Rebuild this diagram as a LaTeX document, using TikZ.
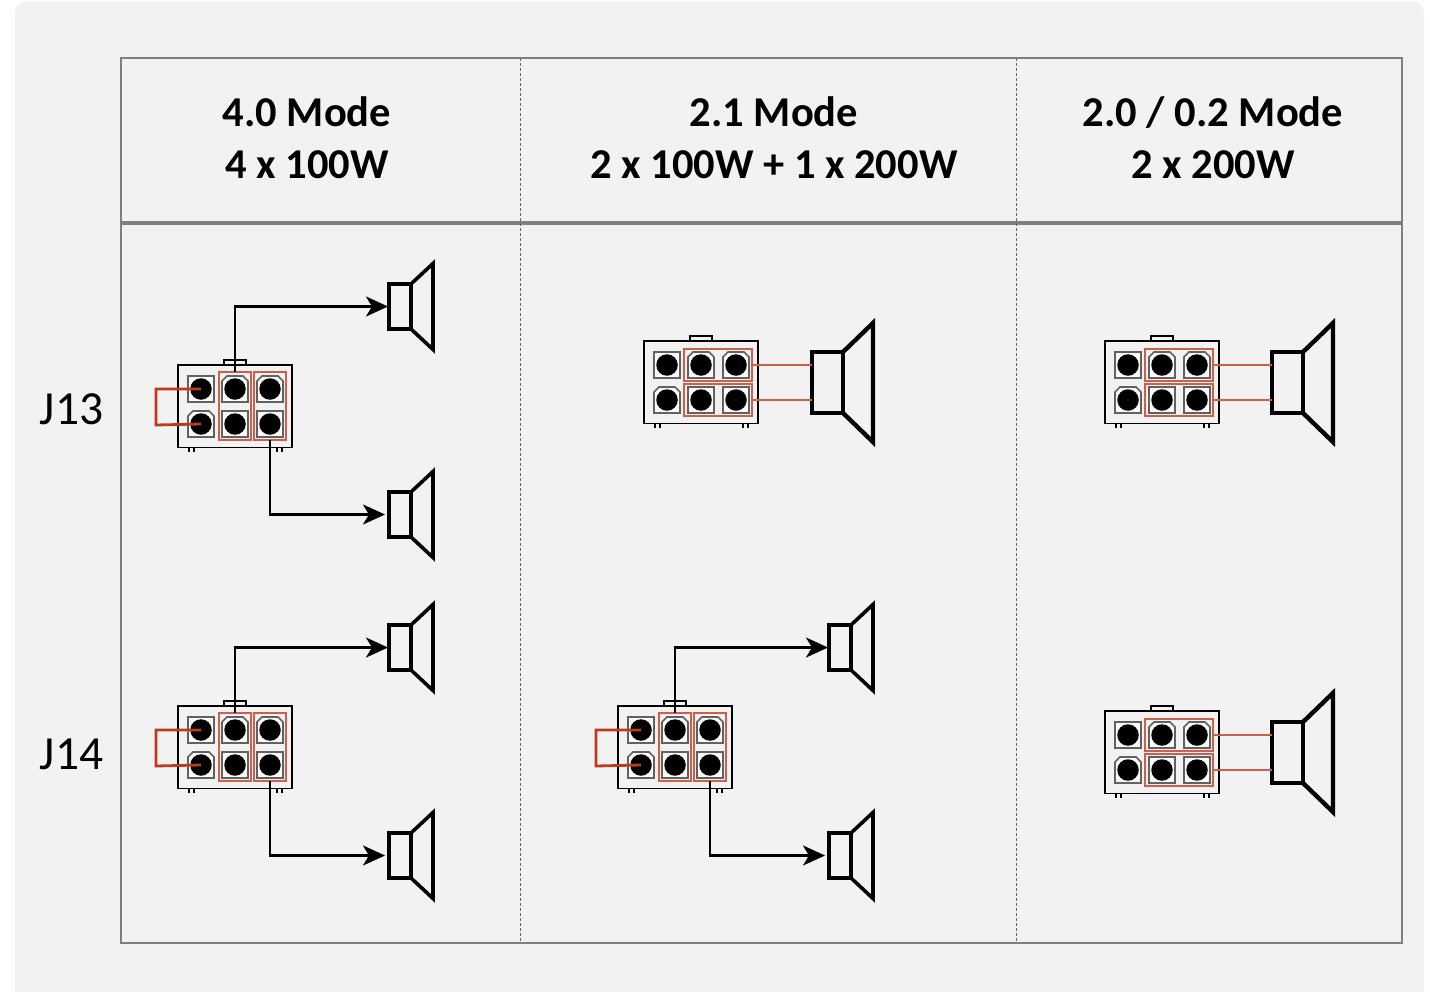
\documentclass[tikz,border=0pt]{standalone}
\usepackage{fontspec}
\setmainfont{Carlito}
\usetikzlibrary{arrows.meta}
\definecolor{panelbg}{HTML}{F2F2F2}
\definecolor{tablegrey}{HTML}{7F7F7F}
\definecolor{jumper}{HTML}{C0391B}
\definecolor{groupred}{HTML}{CF5F48}
\tikzset{
  x=1pt,y=-1pt,
  headtext/.style={font=\bfseries\fontsize{42.5}{52}\selectfont,align=center,text=black,inner sep=0pt},
  rowtext/.style={font=\fontsize{47.5}{50}\selectfont,text=black,inner sep=0pt},
  housing/.style={draw=black,line width=1.8pt,fill=panelbg},
  sockbox/.style={draw=black!62,line width=1.6pt,fill=white!70!panelbg},
  pin/.style={circle,fill=black,minimum size=21.5pt,inner sep=0pt,outer sep=0pt},
  groupbox/.style={draw=groupred,line width=1.5pt},
  grouplink/.style={draw=groupred,line width=1.5pt},
  jumperwire/.style={draw=jumper,line width=2.8pt,line join=miter},
  wire/.style={draw=black,line width=2.7pt,-{Stealth[length=22pt,width=20pt,inset=6pt]}},
  spkbox/.style={draw=black,inner sep=0pt,outer sep=0pt,rectangle},
}
% square and chamfered sockets, (#1,#2) = centre
\newcommand{\socksq}[2]{\draw[sockbox] (#1-13,#2-13) rectangle (#1+13,#2+13);}
\newcommand{\sockch}[2]{\draw[sockbox] (#1-13,#2+13) -- (#1-13,#2-8) -- (#1-8,#2-13) -- (#1+8,#2-13) -- (#1+13,#2-8) -- (#1+13,#2+13) -- cycle;}
% #1 name, #2 x, #3 y : housing with six sockets
\newcommand{\connblock}[3]{%
  \begin{scope}[shift={(#2,#3)}]
    \draw[housing] (46,0) -- (46,-5) -- (68,-5) -- (68,0);
    \draw[line width=1.4pt] (11,82) -- (11,87) (16,82) -- (16,87) (99,82) -- (99,87) (104,82) -- (104,87);
    \draw[housing] (0,0) rectangle (114,82.5);
    \socksq{23}{24}\sockch{57}{24}\sockch{92}{24}
    \sockch{23}{59}\socksq{57}{59}\socksq{92}{59}
    \node[pin] (#1-a) at (23,24) {};
    \node[pin] (#1-b) at (57,24) {};
    \node[pin] (#1-c) at (92,24) {};
    \node[pin] (#1-d) at (23,59) {};
    \node[pin] (#1-e) at (57,59) {};
    \node[pin] (#1-f) at (92,59) {};
  \end{scope}}
% vertical pair groups and the jumper
\newcommand{\vgroups}[3]{%
  \begin{scope}[shift={(#2,#3)}]
    \node[groupbox,minimum width=32pt,minimum height=68pt,inner sep=0pt,outer sep=0pt] (#1-gl) at (57,41) {};
    \node[groupbox,minimum width=32pt,minimum height=68pt,inner sep=0pt,outer sep=0pt] (#1-gr) at (92,41) {};
    \draw[jumperwire] (#1-a.center) -- (-22,24) -- (-22,60) -- (#1-d.center);
  \end{scope}}
% horizontal pair groups
\newcommand{\hgroups}[3]{%
  \begin{scope}[shift={(#2,#3)}]
    \node[groupbox,minimum width=68pt,minimum height=32pt,inner sep=0pt,outer sep=0pt] (#1-gt) at (74,24) {};
    \node[groupbox,minimum width=68pt,minimum height=32pt,inner sep=0pt,outer sep=0pt] (#1-gb) at (74,59) {};
  \end{scope}}
% small speaker: #1 name, #2 x, #3 y of box top-left
\newcommand{\smallspk}[3]{%
  \node[spkbox,line width=3.6pt,minimum width=22pt,minimum height=45pt] (#1) at (#2+11,#3+22.5) {};
  \draw[line width=3.6pt,line join=miter] (#1.north east) -- (#2+44,#3-20.5) -- (#2+44,#3+65.5) -- (#1.south east);}
% large speaker
\newcommand{\bigspk}[3]{%
  \node[spkbox,line width=4.4pt,minimum width=31pt,minimum height=61pt] (#1) at (#2+15.5,#3+30.5) {};
  \draw[line width=4.4pt,line join=miter] (#1.north east) -- (#2+61,#3-29) -- (#2+61,#3+90) -- (#1.south east);}
\begin{document}
\begin{tikzpicture}
\useasboundingbox (0,0) rectangle (1430,991);
\clip (0,0) rectangle (1430,991);
\fill[white] (0,0) rectangle (1430,991);
\fill[panelbg,rounded corners=12pt] (15,1) rectangle (1424,1010);
% table
\draw[tablegrey,line width=2pt] (121,58) rectangle (1402,943);
\draw[tablegrey,line width=3.2pt] (121,223) -- (1402,223);
\draw[tablegrey!80!black,line width=0.9pt,dash pattern=on 3pt off 2pt] (520.6,58) -- (520.6,943);
\draw[tablegrey!80!black,line width=0.9pt,dash pattern=on 3pt off 2pt] (1016.6,58) -- (1016.6,943);
% headers
\node[headtext] (h1) at (307,138) {4.0 Mode\\4 x 100W};
\node[headtext] (h2) at (774,138) {2.1 Mode\\2 x 100W + 1 x 200W};
\node[headtext] (h3) at (1213,138) {2.0 / 0.2 Mode\\2 x 200W};
\node[rowtext] (j13) at (71.5,409) {J13};
\node[rowtext] (j14) at (71.5,754) {J14};
% connector blocks
\connblock{A}{178}{365}\vgroups{A}{178}{365}
\connblock{B}{178}{706}\vgroups{B}{178}{706}
\connblock{C}{618}{706}\vgroups{C}{618}{706}
\connblock{D}{644}{341}\hgroups{D}{644}{341}
\connblock{E}{1105}{341}\hgroups{E}{1105}{341}
\connblock{F}{1105}{711}\hgroups{F}{1105}{711}
% speakers
\smallspk{sa1}{389}{284}
\smallspk{sa2}{389}{492}
\smallspk{sb1}{389}{625}
\smallspk{sb2}{389}{833}
\smallspk{sc1}{829}{625}
\smallspk{sc2}{829}{833}
\bigspk{sd}{812}{352}
\bigspk{se}{1272}{352}
\bigspk{sf}{1272}{722}
% wires
\draw[wire] (A-gl.north) |- ([xshift=-1pt]sa1.west);
\draw[wire] (A-gr.south) |- ([xshift=-4pt]sa2.west);
\draw[wire] (B-gl.north) |- ([xshift=-1pt]sb1.west);
\draw[wire] (B-gr.south) |- ([xshift=-4pt]sb2.west);
\draw[wire] (C-gl.north) |- ([xshift=-1pt]sc1.west);
\draw[wire] (C-gr.south) |- ([xshift=-4pt]sc2.west);
% group links
\foreach \g/\s in {D/sd,E/se,F/sf}{
  \draw[grouplink] (\g-gt.east) -- (\s.west |- \g-gt.east);
  \draw[grouplink] (\g-gb.east) -- (\s.west |- \g-gb.east);
}
\end{tikzpicture}
\end{document}
